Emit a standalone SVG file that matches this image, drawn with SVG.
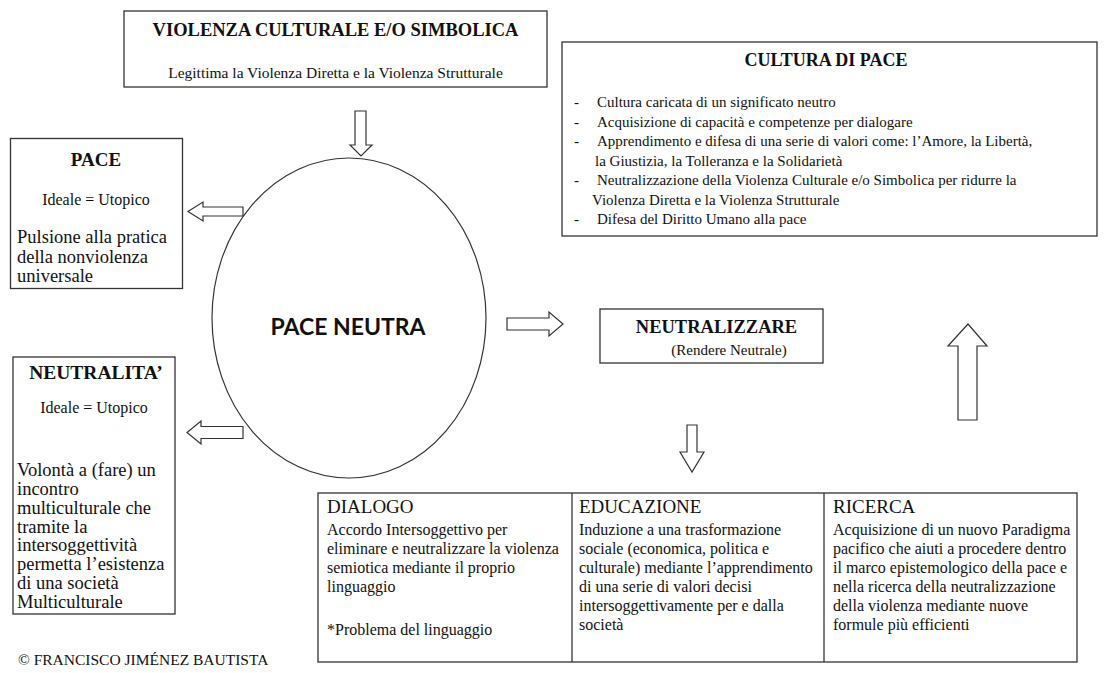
<svg xmlns="http://www.w3.org/2000/svg" width="1105" height="673" viewBox="0 0 1105 673">
<style>
.box{fill:#fff;stroke:#333;stroke-width:1.3}
.arr{fill:#fff;stroke:#333;stroke-width:1.2;stroke-linejoin:miter}
.t{font-family:"Liberation Serif","Tinos","Times New Roman",serif;fill:#111}
.b{font-weight:bold}
.c{text-anchor:middle}
.s15{font-size:15px}
.s16{font-size:16px}
.s18{font-size:18.5px}
.h{font-size:19px}
</style>
<rect width="1105" height="673" fill="#fff"/>
<g id="violenza">
<rect class="box" x="124" y="11" width="423" height="76"/>
<text class="t b c" x="335.5" y="36" font-size="18.5">VIOLENZA CULTURALE E/O SIMBOLICA</text>
<text class="t c" x="335.5" y="78" font-size="15.5">Legittima la Violenza Diretta e la Violenza Strutturale</text>
</g>
<g id="cultura">
<rect class="box" x="562" y="42" width="535" height="194"/>
<text class="t b c" x="826" y="66" font-size="18">CULTURA DI PACE</text>
<text class="t s15" x="574" y="107">-</text><text class="t s15" x="597" y="107">Cultura caricata di un significato neutro</text>
<text class="t s15" x="574" y="126.5">-</text><text class="t s15" x="597" y="126.5">Acquisizione di capacità e competenze per dialogare</text>
<text class="t s15" x="574" y="146">-</text><text class="t s15" x="597" y="146">Apprendimento e difesa di una serie di valori come: l’Amore, la Libertà,</text>
<text class="t s15" x="595" y="165.5">la Giustizia, la Tolleranza e la Solidarietà</text>
<text class="t s15" x="574" y="185">-</text><text class="t s15" x="597" y="185">Neutralizzazione della Violenza Culturale e/o Simbolica per ridurre la</text>
<text class="t s15" x="592" y="204.5">Violenza Diretta e la Violenza Strutturale</text>
<text class="t s15" x="574" y="224">-</text><text class="t s15" x="597" y="224">Difesa del Diritto Umano alla pace</text>
</g>
<g id="pace">
<rect class="box" x="10.5" y="138.5" width="172" height="150"/>
<text class="t b c h" x="96" y="166">PACE</text>
<text class="t c s16" x="96" y="205">Ideale = Utopico</text>
<text class="t s18" x="17" y="243">Pulsione alla pratica</text>
<text class="t s18" x="17" y="263">della nonviolenza</text>
<text class="t s18" x="17" y="282">universale</text>
</g>
<g id="neutralita">
<rect class="box" x="13" y="357" width="162" height="257"/>
<text class="t b c" x="96" y="379" font-size="19.5">NEUTRALITA’</text>
<text class="t c s16" x="94" y="413">Ideale = Utopico</text>
<text class="t s18" x="17" y="476">Volontà a (fare) un</text>
<text class="t s18" x="17" y="495">incontro</text>
<text class="t s18" x="17" y="514">multiculturale che</text>
<text class="t s18" x="17" y="533">tramite la</text>
<text class="t s18" x="17" y="551">intersoggettività</text>
<text class="t s18" x="17" y="570">permetta l’esistenza</text>
<text class="t s18" x="17" y="589">di una società</text>
<text class="t s18" x="17" y="608">Multiculturale</text>
</g>
<g id="pace-neutra">
<ellipse cx="349" cy="318" rx="137" ry="160" fill="#fff" stroke="#333" stroke-width="1.2"/>
<text x="348" y="335" text-anchor="middle" font-family="Lato,'Open Sans',sans-serif" font-weight="bold" font-size="23" fill="#111">PACE NEUTRA</text>
</g>
<g id="neutralizzare">
<rect class="box" x="600" y="309" width="223" height="54"/>
<text class="t b c" x="716.5" y="333" font-size="18.5">NEUTRALIZZARE</text>
<text class="t c s15" x="729" y="355">(Rendere Neutrale)</text>
</g>
<g id="tabella">
<rect class="box" x="318" y="493" width="759" height="169"/>
<line x1="572" y1="493" x2="572" y2="662" stroke="#333" stroke-width="1.3"/>
<line x1="824" y1="493" x2="824" y2="662" stroke="#333" stroke-width="1.3"/>
<g id="dialogo">
<text class="t h" x="327" y="513">DIALOGO</text>
<text class="t s16" x="327" y="535">Accordo Intersoggettivo per</text>
<text class="t s16" x="327" y="554">eliminare e neutralizzare la violenza</text>
<text class="t s16" x="327" y="573">semiotica mediante il proprio</text>
<text class="t s16" x="327" y="592">linguaggio</text>
<text class="t s16" x="327" y="635">*Problema del linguaggio</text>
</g>
<g id="educazione">
<text class="t h" x="579" y="513">EDUCAZIONE</text>
<text class="t s16" x="579" y="535">Induzione a una trasformazione</text>
<text class="t s16" x="579" y="554">sociale (economica, politica e</text>
<text class="t s16" x="579" y="573">culturale) mediante l’apprendimento</text>
<text class="t s16" x="579" y="592">di una serie di valori decisi</text>
<text class="t s16" x="579" y="611">intersoggettivamente per e dalla</text>
<text class="t s16" x="579" y="630">società</text>
</g>
<g id="ricerca">
<text class="t h" x="833" y="513">RICERCA</text>
<text class="t s16" x="833" y="535">Acquisizione di un nuovo Paradigma</text>
<text class="t s16" x="833" y="554">pacifico che aiuti a procedere dentro</text>
<text class="t s16" x="833" y="573">il marco epistemologico della pace e</text>
<text class="t s16" x="833" y="592">nella ricerca della neutralizzazione</text>
<text class="t s16" x="833" y="611">della violenza mediante nuove</text>
<text class="t s16" x="833" y="630">formule più efficienti</text>
</g>
</g>
<g id="connectors">
<path class="arr" d="M355,111 H366 V145 H372 L361,156 L350,145 H355 Z"/>
<path class="arr" d="M243,207 V216 H203 V221 L188,211.5 L203,202 V207 Z"/>
<path class="arr" d="M243,426.5 V438.5 H201 V444 L187,432.5 L201,421 V426.5 Z"/>
<path class="arr" d="M507,318 H549 V312 L563,324 L549,336 V330 H507 Z"/>
<path class="arr" d="M687,425 H697 V452 H704 L692,472 L680,452 H687 Z"/>
<path class="arr" d="M958,420 V346 H948 L968,324 L987,346 H977 V420 Z" stroke="#111" stroke-width="2"/>
</g>
<text class="t" x="18" y="665" font-size="15.5" fill="#555">© FRANCISCO JIMÉNEZ BAUTISTA</text>
</svg>
